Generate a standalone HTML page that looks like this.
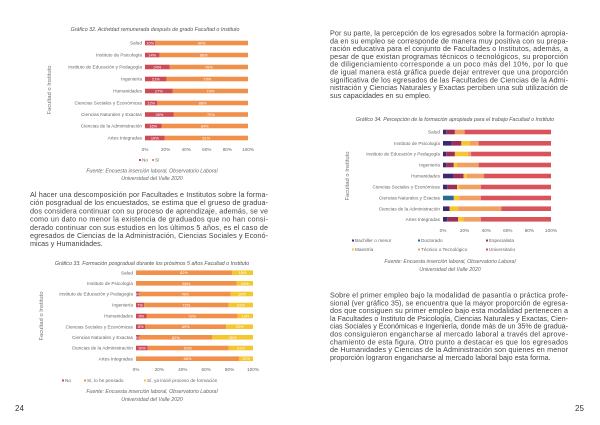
<!DOCTYPE html>
<html><head><meta charset="utf-8"><style>
html,body{margin:0;padding:0;background:#fff;width:600px;height:425px;overflow:hidden}
svg{display:block}
</style></head><body>
<svg id="s" width="600" height="425" viewBox="0 0 600 425" xmlns="http://www.w3.org/2000/svg" font-family="Liberation Sans, sans-serif"></svg>
<script>
const S=document.getElementById('s');let h='';
function t(x,y,s,o){o=o||{};h+=`<text x="${x}" y="${y}" font-size="${o.fs||4.7}" fill="${o.c||'#666'}" ${o.a?`text-anchor="${o.a}"`:''} ${o.i?'font-style="italic"':''} ${o.tl?`textLength="${o.tl}" lengthAdjust="spacing"`:''}>${s}</text>`;}
function para(x,w,y0,dy,lines){lines.forEach((l,i)=>{t(x,y0+i*dy,l,{fs:7.2,c:'#444',tl:i<lines.length-1?w:null});});}
function chart(o){
 t(o.tx,o.ty,o.title,{fs:5.3,c:'#555',a:'middle',i:1});
 const w=o.x1-o.x0;
 o.rows.forEach((r,i)=>{const y=o.ys[i];t(o.x0-3,y+1.6,r[0],{a:'end'});
  let x=o.x0;r[1].forEach((v,j)=>{const ww=w*v/100;if(ww>0)h+=`<rect x="${x}" y="${y-2.3}" width="${ww}" height="4.6" fill="${o.cols[j]}"/>`;
   if(o.lab&&v>=3)t(x+ww/2,y+1.5,v+'%',{a:'middle',c:'#fff',fs:3.9});x+=ww;});});
 for(let k=0;k<=5;k++)t(o.x0+w*k/5,o.tick,k*20+'%',{a:'middle'});
 h+=`<text transform="translate(${o.ax},${o.ay}) rotate(-90)" font-size="5.8" fill="#777" text-anchor="middle">Facultad o Instituto</text>`;
}
const cats=['Salud','Instituto de Psicología','Instituto de Educación y Pedagogía','Ingeniería','Humanidades','Ciencias Sociales y Económicas','Ciencias Naturales y Exactas','Ciencias de la Administración','Artes Integradas'];
const d32=[10,14,24,21,27,12,28,16,19];
chart({title:'Gráfico 32. Actividad remunerada después de grado Facultad o Instituto',tx:155,ty:31,x0:145,x1:248,
 ys:[43,55,67,79,91,103,114.5,126,138],cols:['#cc4b55','#f0904a'],lab:1,tick:151,ax:51,ay:90,
 rows:cats.map((c,i)=>[c,[d32[i],100-d32[i]]])});
h+=`<rect x="139" y="159" width="2" height="2" fill="#cc4b55"/><rect x="152" y="159" width="2" height="2" fill="#f0904a"/>`;
t(142,161.5,'No');t(155,161.5,'Sí');
t(152,172.5,'Fuente: Encuesta inserción laboral, Observatorio Laboral',{fs:5.2,a:'middle',i:1});
t(152,180,'Universidad del Valle 2020',{fs:5.2,a:'middle',i:1});
para(30,238,197,8.2,['Al hacer una descomposición por Facultades e Institutos sobre la forma-','ción posgradual de los encuestados, se estima que el grueso de gradua-','dos considera continuar con su proceso de aprendizaje, además, se ve','como un dato no menor la existencia de graduados que no han consi-','derado continuar con sus estudios en los últimos 5 años, es el caso de','egresados de Ciencias de la Administración, Ciencias Sociales y Econó-','micas y Humanidades.']);
const d33=[[0,82,18],[0,86,14],[3,78,19],[7,72,21],[9,78,13],[8,69,23],[3,62,35],[10,69,21],[0,88,12]];
chart({title:'Gráfico 33. Formación posgradual durante los próximos 5 años Facultad o Instituto',tx:152,ty:265,x0:136,x1:253,
 ys:[272.7,283.3,294,305,316,326.7,337.3,348,358.7],cols:['#cc4b55','#f0904a','#f6c630'],lab:1,tick:371,ax:43,ay:316,
 rows:cats.map((c,i)=>[c,d33[i]])});
h+=`<rect x="62" y="379.5" width="2" height="2" fill="#cc4b55"/><rect x="84" y="379.5" width="2" height="2" fill="#f0904a"/><rect x="144" y="379.5" width="2" height="2" fill="#f6c630"/>`;
t(65,382,'No');t(87,382,'Sí, lo he pensado');t(147,382,'Sí, ya inicié proceso de formación');
t(152,393,'Fuente: Encuesta inserción laboral, Observatorio Laboral',{fs:5.2,a:'middle',i:1});
t(152,401,'Universidad del Valle 2020',{fs:5.2,a:'middle',i:1});
t(15,411,'24',{fs:8,c:'#333'});
para(330,238,35.5,7.8,['Por su parte, la percepción de los egresados sobre la formación apropia-','da en su empleo se corresponde de manera muy positiva con su prepa-','ración educativa para el conjunto de Facultades o Institutos, además, a','pesar de que existan programas técnicos o tecnológicos, su proporción','de diligenciamiento corresponde a un poco más del 10%, por lo que','de igual manera está gráfica puede dejar entrever que una proporción','significativa de los egresados de las Facultades de Ciencias de la Admi-','nistración y Ciencias Naturales y Exactas perciben una sub utilización de','sus capacidades en su empleo.']);
const d34=[[3,0,8,0,9,80],[8,0,9,8,8,67],[3,0,8,12,3,74],[3,0,7,3,20,67],[10,0,9,3,16,62],[4,0,9,2,20,65],[0,10,0,5,20,65],[6,0,0,8,40,46],[4,0,10,5,16,65]];
const c34=['#3a2a6e','#2b6a93','#9c2f5a','#f6c630','#f2a062','#d9545a'];
chart({title:'Gráfico 34. Percepción de la formación apropiada para el trabajo Facultad o Instituto',tx:455,ty:121,x0:443,x1:551,
 ys:[132,143.3,154,165,176,187,198,208.7,219.3],cols:c34,lab:0,tick:232,ax:349,ay:176,
 rows:cats.map((c,i)=>[c,d34[i]])});
[['Bachiller o menor',352,242],['Doctorado',418,242],['Especialista',486,242],['Maestría',352,251],['Técnico o Tecnológico',418,251],['Universitario',486,251]].forEach((l,i)=>{h+=`<rect x="${l[1]}" y="${l[2]-2.5}" width="2" height="2" fill="${c34[i]}"/>`;t(l[1]+3,l[2],l[0]);});
t(450,263,'Fuente: Encuesta inserción laboral, Observatorio Laboral',{fs:5.2,a:'middle',i:1});
t(450,271,'Universidad del Valle 2020',{fs:5.2,a:'middle',i:1});
para(330,238,297.5,7.8,['Sobre el primer empleo bajo la modalidad de pasantía o práctica profe-','sional (ver gráfico 35), se encuentra que la mayor proporción de egresa-','dos que consiguen su primer empleo bajo esta modalidad pertenecen a','la Facultades o Instituto de Psicología, Ciencias Naturales y Exactas, Cien-','cias Sociales y Económicas e Ingeniería, donde más de un 35% de gradua-','dos consiguieron engancharse al mercado laboral a través del aprove-','chamiento de esta figura.  Otro punto a destacar es que los egresados','de Humanidades y Ciencias de la Administración son quienes en menor','proporción lograron engancharse al mercado laboral bajo esta forma.']);
t(575,411,'25',{fs:8,c:'#333'});
S.innerHTML=h;
</script>
</body></html>
